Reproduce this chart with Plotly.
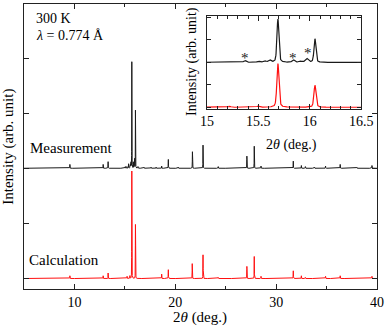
import numpy as np
import plotly.graph_objects as go

# ---------------- data ----------------
# measured pattern: peak positions (2theta, deg), heights (arb.), widths (FWHM, deg)
meas_pos = [9.55, 12.85, 13.34, 15.05, 15.20, 15.37, 15.50, 15.56, 15.61, 15.69,
            15.84, 15.91, 15.97, 16.05, 16.30, 16.90, 17.60, 18.10, 18.65, 19.31,
            20.30, 21.70, 22.75, 24.26, 27.10, 27.83, 28.50, 31.70, 32.50, 32.90,
            33.80, 34.90, 36.35, 38.00, 39.50]
meas_height = [0.07, 0.07, 0.12, 0.03, 0.03, 0.08, 0.05, 0.07, 0.10, 1.93,
               0.11, 0.05, 0.17, 1.05, 0.03, 0.02, 0.02, 0.02, 0.04, 0.16,
               0.02, 0.30, 0.42, 0.03, 0.22, 0.40, 0.04, 0.13, 0.05, 0.03,
               0.02, 0.04, 0.07, 0.02, 0.05]
meas_fwhm = [0.025, 0.025, 0.025, 0.04, 0.035, 0.03, 0.03, 0.03, 0.03, 0.022,
             0.03, 0.03, 0.035, 0.022, 0.04, 0.03, 0.03, 0.03, 0.025, 0.025,
             0.03, 0.025, 0.025, 0.03, 0.025, 0.025, 0.03, 0.025, 0.025, 0.03,
             0.03, 0.03, 0.03, 0.03, 0.03]
meas_offset = 2.0

# calculated pattern
calc_pos = [9.55, 12.85, 13.34, 15.22, 15.50, 15.69, 16.05, 18.65, 19.31, 21.68,
            22.75, 24.26, 27.10, 27.83, 28.50, 31.70, 32.50, 32.90, 34.90, 36.35,
            39.50]
calc_height = [0.05, 0.05, 0.10, 0.04, 0.05, 1.95, 0.98, 0.08, 0.16, 0.27,
               0.43, 0.02, 0.22, 0.40, 0.04, 0.14, 0.05, 0.02, 0.04, 0.05,
               0.04]
calc_fwhm = [0.025, 0.025, 0.025, 0.03, 0.03, 0.024, 0.024, 0.025, 0.025, 0.025,
             0.025, 0.03, 0.025, 0.025, 0.03, 0.025, 0.025, 0.03, 0.03, 0.03,
             0.03]

main_xticks = [10, 20, 30, 40]
inset_xticks = [15, 15.5, 16, 16.5]
inset_xticklabels = ["15", "15.5", "16", "16.5"]

# asterisks marking impurity peaks in the inset
star_pos = [15.37, 15.84, 15.98]
star_y = [2.25, 2.25, 2.47]

# ---------------- profiles ----------------
x_min, x_max, step = 5.0, 40.0, 0.002
grid = np.union1d(np.arange(x_min, x_max + step / 2, step),
                  np.array(meas_pos + calc_pos))


def profile(x, pos, height, fwhm, eta=0.4):
    y = np.zeros_like(x)
    for p, a, f in zip(pos, height, fwhm):
        d = (x - p) / (f / 2.0)
        y += a * (eta / (1.0 + d ** 2) + (1 - eta) * np.exp(-np.log(2) * d ** 2))
    return y


y_meas = meas_offset + profile(grid, meas_pos, meas_height, meas_fwhm)
y_calc = profile(grid, calc_pos, calc_height, calc_fwhm)

sel = (grid >= 14.9) & (grid <= 16.6)

BLACK = "#1a1a1a"
RED = "#ff1010"
FONT = "Liberation Serif"

fig = go.Figure()
fig.add_trace(go.Scatter(x=grid, y=y_meas, mode="lines",
                         line=dict(color=BLACK, width=1), xaxis="x", yaxis="y"))
fig.add_trace(go.Scatter(x=grid, y=y_calc, mode="lines",
                         line=dict(color=RED, width=1), xaxis="x", yaxis="y"))
fig.add_trace(go.Scatter(x=grid[sel], y=y_meas[sel], mode="lines",
                         line=dict(color=BLACK, width=1.2), xaxis="x2", yaxis="y2"))
fig.add_trace(go.Scatter(x=grid[sel], y=y_calc[sel], mode="lines",
                         line=dict(color=RED, width=1.2), xaxis="x2", yaxis="y2"))

W, H = 392, 326
L, R, T, B = 24, 383, 3, 289
IL, IR, IT, IB = 210, 367, 15, 108

axis_common = dict(showline=True, linecolor="#222", linewidth=1, mirror="allticks",
                   ticks="inside", showgrid=False, zeroline=False,
                   tickfont=dict(family=FONT, size=14, color="black"))

fig.update_layout(
    width=W, height=H, autosize=False,
    margin=dict(l=L, r=W - R, t=T, b=H - B),
    paper_bgcolor="white", plot_bgcolor="white",
    showlegend=False,
    font=dict(family=FONT, size=14, color="black"),
    xaxis=dict(axis_common, range=[5, 40], tickvals=main_xticks, ticklen=5,
               tickcolor="#222",
               minor=dict(dtick=5, tick0=5, ticks="inside", ticklen=3, tickcolor="#222"),
               domain=[0, 1]),
    yaxis=dict(axis_common, range=[-0.19, 4.98], tickvals=[0, 1, 2, 3, 4],
               showticklabels=False, ticklen=5, tickcolor="#222", domain=[0, 1]),
    xaxis2=dict(axis_common, range=[15, 16.5], tickvals=inset_xticks,
                ticktext=inset_xticklabels, ticklen=5, tickcolor="#222",
                minor=dict(dtick=0.1, tick0=15, ticks="inside", ticklen=3, tickcolor="#222"),
                anchor="y2",
                domain=[(IL - L) / (R - L), (IR - L) / (R - L)]),
    yaxis2=dict(axis_common, range=[-0.06, 4.07], tickvals=[0, 1, 2, 3, 4],
                showticklabels=False, ticklen=4, tickcolor="#222", anchor="x2",
                domain=[(B - IB) / (B - T), (B - IT) / (B - T)]),
)


def px_x(px):
    return (px - L) / (R - L)


def px_y(py):
    return (B - py) / (B - T)


ann = []


def add_text(text, x, y, size=15, xanchor="left", angle=0, **kw):
    ann.append(dict(text=text, x=px_x(x), y=px_y(y), xref="paper", yref="paper",
                    showarrow=False, xanchor=xanchor, yanchor="middle",
                    textangle=angle, font=dict(family=FONT, size=size, color="black"),
                    **kw))


add_text("300 K", 34, 18, size=14)
add_text("<i>λ</i> = 0.774 Å", 34, 35, size=14)
add_text("Measurement", 28, 148)
add_text("Calculation", 27, 260)
add_text("Intensity (arb. unit)", 8, 146, angle=-90, xanchor="center")
add_text("2<i>θ</i> (deg.)", 203, 318, xanchor="center")
add_text("Intensity (arb. unit)", 195, 61, size=14, angle=-90, xanchor="center")
add_text("2<i>θ</i> (deg.)", 296, 144, size=14, xanchor="center")

for sx, sy in zip(star_pos, star_y):
    ann.append(dict(text="*", x=sx, y=sy, xref="x2", yref="y2", showarrow=False,
                    xanchor="center", yanchor="middle", yshift=-1,
                    font=dict(family=FONT, size=15, color="#222")))

fig.update_layout(annotations=ann)

fig.write_html("out.html", config={"displayModeBar": False},
               post_script="document.body.style.margin='0';")
